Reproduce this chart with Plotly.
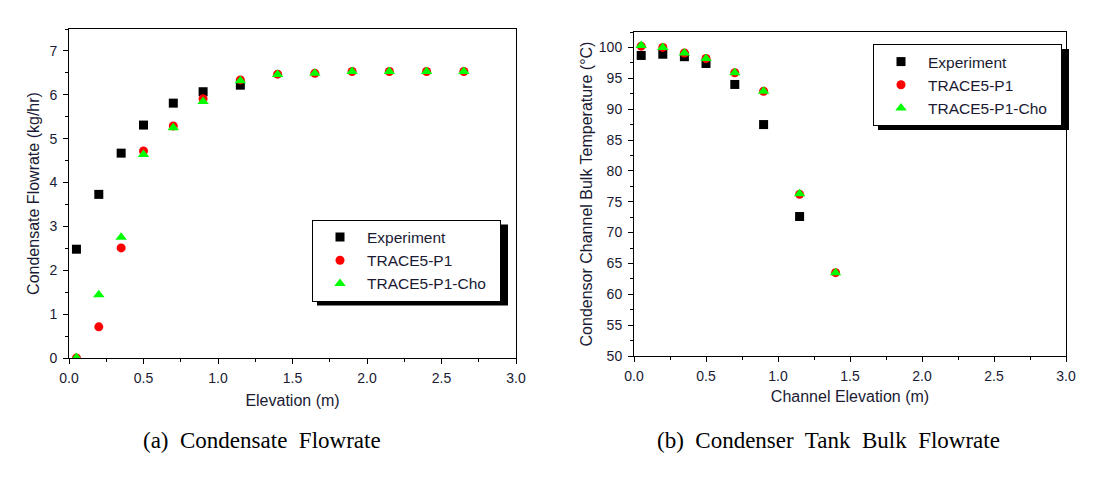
import plotly.graph_objects as go

# ---- data ----
elev_exp = [0.05, 0.2, 0.35, 0.5, 0.7, 0.9, 1.15]
flow_exp = [2.48, 3.73, 4.67, 5.31, 5.81, 6.07, 6.22]

elev_sim = [0.05, 0.2, 0.35, 0.5, 0.7, 0.9, 1.15, 1.4, 1.65, 1.9, 2.15, 2.4, 2.65]
flow_p1 = [0.0, 0.71, 2.51, 4.72, 5.29, 5.91, 6.34, 6.47, 6.49, 6.53, 6.53, 6.53, 6.53]
flow_cho = [0.01, 1.44, 2.75, 4.64, 5.25, 5.85, 6.32, 6.46, 6.49, 6.53, 6.53, 6.53, 6.53]

elev_t_exp = [0.05, 0.2, 0.35, 0.5, 0.7, 0.9, 1.15]
temp_exp = [98.7, 98.9, 98.5, 97.4, 94.0, 87.5, 72.6]
elev_t_sim = [0.05, 0.2, 0.35, 0.5, 0.7, 0.9, 1.15, 1.4]
temp_p1 = [100.2, 100.0, 99.1, 98.2, 95.9, 92.9, 76.2, 63.5]
temp_cho = [100.3, 100.0, 99.1, 98.2, 95.9, 92.9, 76.3, 63.5]

series_names = ["Experiment", "TRACE5-P1", "TRACE5-P1-Cho\u00a0\u00a0"]
captions = ["(a)\u00a0 Condensate\u00a0 Flowrate", "(b)\u00a0 Condenser\u00a0 Tank\u00a0 Bulk\u00a0 Flowrate"]

W, H = 1098, 478
OFF = 8  # page body margin: figure starts 8 px right/down in the window
BLACK = "#000000"
RED = "#ff0000"
GREEN = "#00ff00"
TXT = "#1a1a33"
SANS = "Arial, Liberation Sans"
TITLE_FONT = dict(family=SANS, size=16, color=TXT)

def px(x):
    return (x - OFF) / W

def py(y):
    return (H - (y - OFF)) / H

fig = go.Figure()

def add_set(xs_e, ys_e, xs_s, y1, y2, xa, ya, leg):
    fig.add_trace(go.Scatter(x=xs_e, y=ys_e, mode="markers", name=series_names[0],
                             marker=dict(symbol="square", size=9, color=BLACK),
                             xaxis=xa, yaxis=ya, legend=leg))
    fig.add_trace(go.Scatter(x=xs_s, y=y1, mode="markers", name=series_names[1],
                             marker=dict(symbol="circle", size=9, color=RED),
                             xaxis=xa, yaxis=ya, legend=leg))
    fig.add_trace(go.Scatter(x=xs_s, y=y2, mode="markers", name=series_names[2],
                             marker=dict(symbol="triangle-up", size=10, color=GREEN),
                             xaxis=xa, yaxis=ya, legend=leg))

add_set(elev_exp, flow_exp, elev_sim, flow_p1, flow_cho, "x", "y", "legend")
add_set(elev_t_exp, temp_exp, elev_t_sim, temp_p1, temp_cho, "x2", "y2", "legend2")

ax_common = dict(showgrid=False, zeroline=False, showline=True, linecolor=BLACK, linewidth=1,
                 mirror=True, ticks="outside", ticklen=5, tickwidth=1, tickcolor=BLACK,
                 automargin=False,
                 tickfont=dict(family=SANS, size=14, color=TXT))

def dom(x0, x1):
    return [px(x0), px(x1)]

def ydom(top, bottom):
    return [py(bottom), py(top)]

LEG_H = 81  # approximate rendered legend height
LEG_W = 191

fig.update_layout(
    width=W, height=H, margin=dict(l=0, r=0, t=0, b=0),
    paper_bgcolor="white", plot_bgcolor="white",
    xaxis=dict(**ax_common, domain=dom(69, 516), range=[0, 3.0], dtick=0.5, tickformat=".1f",
               ticklabelstandoff=2,
               minor=dict(ticks="outside", ticklen=3, dtick=0.25, tickcolor=BLACK),
               title=dict(text="Elevation (m)", standoff=10, font=TITLE_FONT), anchor="y"),
    yaxis=dict(**ax_common, domain=ydom(29, 358), range=[0, 7.5], dtick=1,
               ticklabelstandoff=3,
               minor=dict(ticks="outside", ticklen=3, dtick=0.5, tickcolor=BLACK),
               title=dict(text="Condensate Flowrate (kg/hr)", standoff=5, font=TITLE_FONT), anchor="x"),
    xaxis2=dict(**ax_common, domain=dom(634, 1066), range=[0, 3.0], dtick=0.5, tickformat=".1f",
                ticklabelstandoff=2,
                minor=dict(ticks="outside", ticklen=3, dtick=0.25, tickcolor=BLACK),
                title=dict(text="Channel Elevation (m)", standoff=8, font=TITLE_FONT), anchor="y2"),
    yaxis2=dict(**ax_common, domain=ydom(32, 356), range=[50, 102.5], dtick=5,
                ticklabelstandoff=3,
                minor=dict(ticks="outside", ticklen=3, dtick=2.5, tickcolor=BLACK),
                title=dict(text="Condensor Channel Bulk Temperature (\u00b0C)", standoff=2, font=TITLE_FONT),
                anchor="x2"),
    legend=dict(x=px(312), y=py(260 - LEG_H / 2), xanchor="left", yanchor="top",
                bgcolor="white", bordercolor=BLACK, borderwidth=1,
                font=dict(family=SANS, size=15.5, color=TXT),
                itemwidth=44, tracegroupgap=0),
    legend2=dict(x=px(873), y=py(84.5 - LEG_H / 2), xanchor="left", yanchor="top",
                 bgcolor="white", bordercolor=BLACK, borderwidth=1,
                 font=dict(family=SANS, size=15.5, color=TXT),
                 itemwidth=44, tracegroupgap=0),
    showlegend=True,
)

# legend drop shadows (offset 5 px right/down from legend box)
for (lx, ly) in [(312, 260 - LEG_H / 2), (873, 84.5 - LEG_H / 2)]:
    x0, y0 = lx + 5, ly + 5
    x1, y1 = lx + 5 + LEG_W, ly + 5 + LEG_H
    fig.add_shape(type="rect", xref="paper", yref="paper",
                  x0=px(x0), x1=px(x1), y0=py(y1), y1=py(y0),
                  fillcolor=BLACK, line=dict(width=0), layer="above")

# captions
for cx, txt in [(262, captions[0]), (828, captions[1])]:
    fig.add_annotation(x=px(cx), y=py(440), xref="paper", yref="paper",
                       text=txt, showarrow=False, xanchor="center", yanchor="middle",
                       font=dict(family="Liberation Serif, Times New Roman", size=23, color=BLACK))

fig.write_html("out.html")
